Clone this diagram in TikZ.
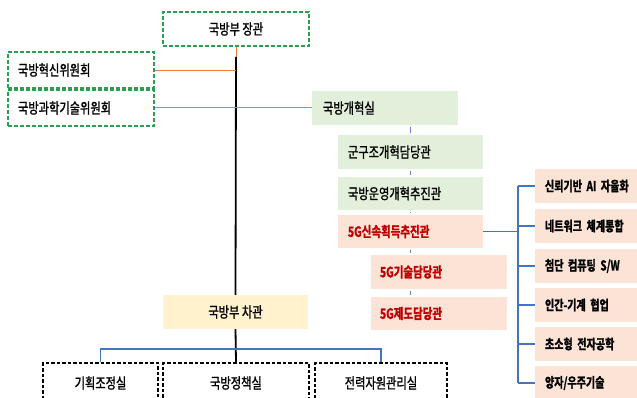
\documentclass[tikz,border=0pt]{standalone}
\usepackage{fontspec}
\newfontfamily\kr{Noto Sans CJK KR}[FakeStretch=0.76,FakeBold=1.2]
\newfontfamily\krb{Noto Sans CJK KR Bold}[FakeStretch=0.74,FakeBold=1.6]
\definecolor{dgreen}{RGB}{40,160,80}
\definecolor{lgreen}{RGB}{226,239,218}
\definecolor{lpink}{RGB}{251,228,214}
\definecolor{lyellow}{RGB}{255,242,204}
\definecolor{lorange}{RGB}{237,125,49}
\definecolor{lblue}{RGB}{68,114,196}
\definecolor{dred}{RGB}{192,0,0}
\tikzset{
  base/.style={rectangle, inner sep=0pt, font=\kr\fontsize{14.8}{17}\selectfont},
  heavy/.style={font=\krb\fontsize{14.2}{17}\selectfont},
  rheavy/.style={font=\krb\fontsize{13.6}{17}\selectfont},
  gdash/.style={base, draw=dgreen, line width=1.3pt, dash pattern=on 4pt off 2pt, fill=white},
  kdash/.style={base, draw=black, line width=1.1pt, dash pattern=on 3.5pt off 2pt, fill=white},
  gfill/.style={base, fill=lgreen},
  pfill/.style={base, fill=lpink},
  yfill/.style={base, fill=lyellow},
  lt/.style 2 args={text width=#1-2*#2, inner xsep=#2, align=left, minimum width=#1},
  redtxt/.style={heavy, text=dred},
  orl/.style={draw=lorange, line width=1pt},
  bll/.style={draw=lblue, line width=1.6pt},
  bls/.style={draw=lblue!85, line width=1.6pt, shorten >=2pt, shorten <=2pt},
  kl/.style={draw=black, line width=1.8pt}
}
\begin{document}
\begin{tikzpicture}[x=1pt,y=-1pt]
\useasboundingbox (0,0) rectangle (637,398);
% top
\node[gdash, minimum width=146, minimum height=34] (min) at (236,29) {국방부 장관};
\node[gdash, lt={146}{10}, minimum height=36] (inn) at (81,70) {국방혁신위원회};
\node[gdash, lt={146}{10}, minimum height=36] (sci) at (81,108) {국방과학기술위원회};
% reform column
\node[gfill, lt={146}{11}, minimum height=34] (ref) at (385,108) {국방개혁실};
\node[gfill, lt={145}{10}, minimum height=34] (gun) at (410.5,152) {군구조개혁담당관};
\node[gfill, lt={145}{10}, minimum height=33] (unm) at (410.5,193.5) {국방운영개혁추진관};
\node[pfill, redtxt, lt={145}{10}, minimum height=33] (fg) at (410.5,231.5) {5G신속획득추진관};
\node[pfill, redtxt, lt={136}{9}, minimum height=34] (tech) at (439,272) {5G기술담당관};
\node[pfill, redtxt, lt={136}{9}, minimum height=33] (sys) at (439,313.5) {5G제도담당관};
% right column
\node[pfill, rheavy, lt={102}{10}, minimum height=34] (r1) at (586,186) {\mbox{신뢰기반 AI 자율화}};
\node[pfill, rheavy, lt={102}{10}, minimum height=34] (r2) at (586,226) {\mbox{네트워크 체계통합}};
\node[pfill, rheavy, lt={102}{10}, minimum height=34] (r3) at (586,266) {\mbox{첨단 컴퓨팅 S/W}};
\node[pfill, rheavy, lt={102}{10}, minimum height=34] (r4) at (586,305) {\mbox{인간-기계 협업}};
\node[pfill, rheavy, lt={102}{10}, minimum height=34] (r5) at (586,344) {\mbox{초소형 전자공학}};
\node[pfill, rheavy, lt={102}{10}, minimum height=34] (r6) at (586,383) {\mbox{양자/우주기술}};
% vice
\node[yfill, minimum width=145, minimum height=34] (vice) at (235.5,312) {국방부 차관};
% bottom
\node[kdash, minimum width=115, minimum height=40] (b1) at (100.5,383) {기획조정실};
\node[kdash, minimum width=146, minimum height=40] (b2) at (236,383) {국방정책실};
\node[kdash, minimum width=132, minimum height=40] (b3) at (381,383) {전력자원관리실};
% coordinates
\coordinate (j0) at (236,57);
\coordinate (j1) at (236,71);
\coordinate (bv) at (518,231.5);
\coordinate (bvt) at (518,186);
\coordinate (bvb) at (518,383);
\coordinate (hb) at (236,349);
% lines
\draw[orl] (min.south) -- (j0);
\draw[kl] (j0) -- (vice.north);
\draw[orl] (inn.east |- j1) -- (j1);
\draw[orl] (sci.east) -- (ref.west);
\draw[bls] (ref.south -| gun.north) -- (gun.north);
\draw[bls] (gun.south) -- (unm.north);
\draw[bls] (unm.south) -- (fg.north);
\draw[bls] (fg.south) -- (tech.north -| fg.south);
\draw[bls] (tech.south -| fg.south) -- (sys.north -| fg.south);
\draw[bll] (fg.east) -- (bv);
\draw[bll] (bvt) -- (bvb);
\foreach \r in {r1,r2,r3,r4,r5,r6} \draw[bll] (\r.west) -- (\r.west -| bv);
\draw[kl] (vice.south) -- (b2.north);
\draw[bll] (b1.north) |- (hb) -| (b3.north);
\end{tikzpicture}
\end{document}
